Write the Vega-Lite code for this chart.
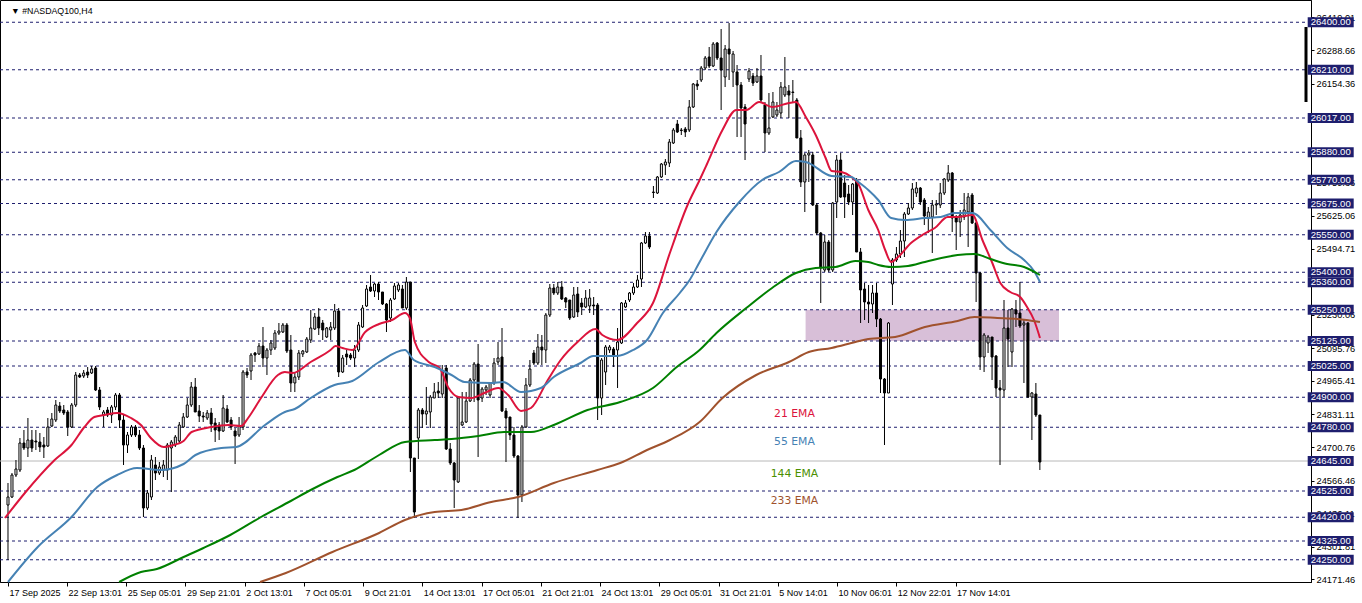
{
"$schema": "https://vega.github.io/schema/vega-lite/v6.json",
"width": 1311, "height": 582, "padding": {"left": 0, "top": 0, "right": 51, "bottom": 21}, "autosize": {"type": "none"},
"background": "#ffffff",
"config": {"view": {"stroke": "#000000", "strokeWidth": 1}},
"datasets": {
"candles": [
{"i":0,"o":24469,"h":24557,"l":24249,"c":24501},{"i":1,"o":24501,"h":24597,"l":24497,"c":24589},{"i":2,"o":24589,"h":24649,"l":24581,"c":24613},{"i":3,"o":24609,"h":24737,"l":24601,"c":24717},{"i":4,"o":24717,"h":24769,"l":24689,"c":24697},{"i":5,"o":24697,"h":24817,"l":24661,"c":24729},{"i":6,"o":24729,"h":24769,"l":24681,"c":24697},{"i":7,"o":24725,"h":24769,"l":24689,"c":24721},{"i":8,"o":24721,"h":24757,"l":24681,"c":24701},{"i":9,"o":24709,"h":24741,"l":24657,"c":24701},
{"i":10,"o":24705,"h":24817,"l":24701,"c":24781},{"i":11,"o":24785,"h":24837,"l":24781,"c":24813},{"i":12,"o":24809,"h":24889,"l":24801,"c":24869},{"i":13,"o":24865,"h":24881,"l":24837,"c":24845},{"i":14,"o":24849,"h":24869,"l":24829,"c":24837},{"i":15,"o":24841,"h":24849,"l":24745,"c":24781},{"i":16,"o":24781,"h":24877,"l":24777,"c":24869},{"i":17,"o":24869,"h":25001,"l":24861,"c":24989},{"i":18,"o":24989,"h":24997,"l":24977,"c":24981},{"i":19,"o":24985,"h":25009,"l":24977,"c":24997},
{"i":20,"o":25001,"h":25021,"l":24977,"c":24989},{"i":21,"o":24997,"h":25025,"l":24993,"c":25013},{"i":22,"o":25017,"h":25025,"l":24925,"c":24929},{"i":23,"o":24929,"h":24941,"l":24849,"c":24861},{"i":24,"o":24829,"h":24849,"l":24781,"c":24841},{"i":25,"o":24849,"h":24861,"l":24821,"c":24829},{"i":26,"o":24829,"h":24869,"l":24797,"c":24861},{"i":27,"o":24861,"h":24917,"l":24849,"c":24909},{"i":28,"o":24909,"h":24917,"l":24777,"c":24809},{"i":29,"o":24809,"h":24829,"l":24629,"c":24709},
{"i":30,"o":24709,"h":24761,"l":24677,"c":24749},{"i":31,"o":24749,"h":24789,"l":24741,"c":24781},{"i":32,"o":24781,"h":24789,"l":24741,"c":24749},{"i":33,"o":24749,"h":24769,"l":24689,"c":24697},{"i":34,"o":24697,"h":24709,"l":24421,"c":24457},{"i":35,"o":24457,"h":24529,"l":24449,"c":24517},{"i":36,"o":24501,"h":24669,"l":24489,"c":24649},{"i":37,"o":24629,"h":24661,"l":24569,"c":24597},{"i":38,"o":24597,"h":24641,"l":24589,"c":24621},{"i":39,"o":24609,"h":24649,"l":24581,"c":24629},
{"i":40,"o":24609,"h":24717,"l":24569,"c":24709},{"i":41,"o":24697,"h":24729,"l":24521,"c":24721},{"i":42,"o":24709,"h":24749,"l":24701,"c":24741},{"i":43,"o":24725,"h":24801,"l":24717,"c":24789},{"i":44,"o":24781,"h":24837,"l":24777,"c":24821},{"i":45,"o":24821,"h":24897,"l":24817,"c":24869},{"i":46,"o":24869,"h":24961,"l":24861,"c":24941},{"i":47,"o":24941,"h":24977,"l":24841,"c":24841},{"i":48,"o":24845,"h":24869,"l":24801,"c":24825},{"i":49,"o":24825,"h":24841,"l":24801,"c":24821},
{"i":50,"o":24817,"h":24849,"l":24809,"c":24837},{"i":51,"o":24837,"h":24857,"l":24761,"c":24793},{"i":52,"o":24797,"h":24817,"l":24721,"c":24769},{"i":53,"o":24789,"h":24801,"l":24729,"c":24765},{"i":54,"o":24765,"h":24909,"l":24761,"c":24857},{"i":55,"o":24853,"h":24869,"l":24797,"c":24801},{"i":56,"o":24809,"h":24821,"l":24769,"c":24781},{"i":57,"o":24765,"h":24777,"l":24633,"c":24745},{"i":58,"o":24749,"h":24821,"l":24741,"c":24785},{"i":59,"o":24781,"h":25009,"l":24769,"c":25001},
{"i":60,"o":25001,"h":25017,"l":24977,"c":24989},{"i":61,"o":25005,"h":25077,"l":24969,"c":25069},{"i":62,"o":25077,"h":25081,"l":25041,"c":25069},{"i":63,"o":25073,"h":25117,"l":25069,"c":25105},{"i":64,"o":25105,"h":25181,"l":25021,"c":25057},{"i":65,"o":25057,"h":25097,"l":24989,"c":25089},{"i":66,"o":25089,"h":25129,"l":25069,"c":25117},{"i":67,"o":25097,"h":25169,"l":25089,"c":25157},{"i":68,"o":25157,"h":25197,"l":25149,"c":25165},{"i":69,"o":25161,"h":25197,"l":25157,"c":25189},
{"i":70,"o":25189,"h":25197,"l":25077,"c":25085},{"i":71,"o":25089,"h":25149,"l":24921,"c":24957},{"i":72,"o":24957,"h":25001,"l":24921,"c":24981},{"i":73,"o":24981,"h":25089,"l":24969,"c":25077},{"i":74,"o":25073,"h":25089,"l":25061,"c":25085},{"i":75,"o":25081,"h":25141,"l":25077,"c":25133},{"i":76,"o":25129,"h":25249,"l":25117,"c":25177},{"i":77,"o":25173,"h":25237,"l":25169,"c":25221},{"i":78,"o":25221,"h":25257,"l":25149,"c":25177},{"i":79,"o":25197,"h":25209,"l":25129,"c":25169},
{"i":80,"o":25141,"h":25181,"l":25137,"c":25177},{"i":81,"o":25169,"h":25201,"l":25129,"c":25181},{"i":82,"o":25177,"h":25273,"l":25169,"c":25245},{"i":83,"o":25245,"h":25257,"l":24981,"c":25001},{"i":84,"o":25001,"h":25069,"l":24997,"c":25057},{"i":85,"o":25073,"h":25089,"l":25029,"c":25061},{"i":86,"o":25069,"h":25077,"l":25049,"c":25057},{"i":87,"o":25057,"h":25109,"l":25021,"c":25089},{"i":88,"o":25089,"h":25201,"l":25081,"c":25189},{"i":89,"o":25181,"h":25269,"l":25177,"c":25257},
{"i":90,"o":25265,"h":25349,"l":25261,"c":25333},{"i":91,"o":25341,"h":25389,"l":25321,"c":25325},{"i":92,"o":25325,"h":25357,"l":25301,"c":25353},{"i":93,"o":25353,"h":25361,"l":25289,"c":25321},{"i":94,"o":25321,"h":25321,"l":25269,"c":25273},{"i":95,"o":25273,"h":25277,"l":25161,"c":25209},{"i":96,"o":25217,"h":25297,"l":25201,"c":25289},{"i":97,"o":25293,"h":25357,"l":25289,"c":25345},{"i":98,"o":25329,"h":25357,"l":25321,"c":25349},{"i":99,"o":25333,"h":25349,"l":25257,"c":25257},
{"i":100,"o":25257,"h":25381,"l":25249,"c":25361},{"i":101,"o":25361,"h":25361,"l":24601,"c":24657},{"i":102,"o":24657,"h":24657,"l":24417,"c":24441},{"i":103,"o":24737,"h":24857,"l":24653,"c":24849},{"i":104,"o":24849,"h":24857,"l":24777,"c":24833},{"i":105,"o":24833,"h":24941,"l":24789,"c":24845},{"i":106,"o":24841,"h":24909,"l":24777,"c":24901},{"i":107,"o":24897,"h":24957,"l":24897,"c":24921},{"i":108,"o":24925,"h":24961,"l":24897,"c":24917},{"i":109,"o":24913,"h":25029,"l":24897,"c":25005},
{"i":110,"o":25017,"h":25029,"l":24689,"c":24693},{"i":111,"o":24693,"h":24717,"l":24629,"c":24637},{"i":112,"o":24637,"h":24641,"l":24457,"c":24569},{"i":113,"o":24561,"h":24901,"l":24557,"c":24897},{"i":114,"o":24789,"h":24921,"l":24785,"c":24801},{"i":115,"o":24801,"h":24921,"l":24797,"c":24885},{"i":116,"o":24885,"h":24977,"l":24881,"c":24969},{"i":117,"o":24969,"h":25041,"l":24881,"c":25033},{"i":118,"o":25033,"h":25113,"l":24661,"c":24889},{"i":119,"o":24897,"h":24941,"l":24881,"c":24933},
{"i":120,"o":24929,"h":24949,"l":24909,"c":24941},{"i":121,"o":24909,"h":24961,"l":24897,"c":24957},{"i":122,"o":24957,"h":25057,"l":24949,"c":25037},{"i":123,"o":25041,"h":25121,"l":25029,"c":25057},{"i":124,"o":25061,"h":25177,"l":24841,"c":24845},{"i":125,"o":24845,"h":24857,"l":24641,"c":24817},{"i":126,"o":24821,"h":24821,"l":24729,"c":24749},{"i":127,"o":24749,"h":24781,"l":24657,"c":24665},{"i":128,"o":24665,"h":24669,"l":24417,"c":24509},{"i":129,"o":24509,"h":24789,"l":24481,"c":24781},
{"i":130,"o":24781,"h":24977,"l":24777,"c":24949},{"i":131,"o":24949,"h":25049,"l":24941,"c":25013},{"i":132,"o":25077,"h":25089,"l":25029,"c":25037},{"i":133,"o":25037,"h":25153,"l":25029,"c":25101},{"i":134,"o":25101,"h":25149,"l":25029,"c":25089},{"i":135,"o":25089,"h":25237,"l":25037,"c":25229},{"i":136,"o":25229,"h":25353,"l":25221,"c":25337},{"i":137,"o":25337,"h":25353,"l":25309,"c":25317},{"i":138,"o":25317,"h":25361,"l":25309,"c":25341},{"i":139,"o":25341,"h":25365,"l":25289,"c":25293},
{"i":140,"o":25297,"h":25301,"l":25257,"c":25281},{"i":141,"o":25289,"h":25289,"l":25209,"c":25217},{"i":142,"o":25221,"h":25341,"l":25217,"c":25309},{"i":143,"o":25313,"h":25341,"l":25221,"c":25241},{"i":144,"o":25277,"h":25297,"l":25229,"c":25261},{"i":145,"o":25261,"h":25329,"l":25257,"c":25297},{"i":146,"o":25265,"h":25333,"l":25237,"c":25297},{"i":147,"o":25269,"h":25301,"l":25229,"c":25265},{"i":148,"o":25269,"h":25277,"l":24809,"c":24897},{"i":149,"o":24897,"h":25057,"l":24829,"c":25049},
{"i":150,"o":25001,"h":25109,"l":24949,"c":25101},{"i":151,"o":25089,"h":25109,"l":25077,"c":25101},{"i":152,"o":25093,"h":25101,"l":25021,"c":25069},{"i":153,"o":25089,"h":25177,"l":24937,"c":25121},{"i":154,"o":25117,"h":25281,"l":25113,"c":25277},{"i":155,"o":25261,"h":25289,"l":25257,"c":25277},{"i":156,"o":25289,"h":25321,"l":25281,"c":25317},{"i":157,"o":25317,"h":25357,"l":25309,"c":25341},{"i":158,"o":25341,"h":25389,"l":25337,"c":25369},{"i":159,"o":25373,"h":25521,"l":25341,"c":25517},
{"i":160,"o":25517,"h":25561,"l":25513,"c":25545},{"i":161,"o":25545,"h":25561,"l":25493,"c":25501},{"i":162,"o":25721,"h":25745,"l":25697,"c":25719},{"i":163,"o":25717,"h":25785,"l":25713,"c":25781},{"i":164,"o":25781,"h":25837,"l":25777,"c":25833},{"i":165,"o":25829,"h":25853,"l":25789,"c":25841},{"i":166,"o":25837,"h":25933,"l":25821,"c":25921},{"i":167,"o":25917,"h":25977,"l":25913,"c":25969},{"i":168,"o":25993,"h":26009,"l":25957,"c":25961},{"i":169,"o":25969,"h":25977,"l":25949,"c":25967},
{"i":170,"o":25973,"h":25981,"l":25941,"c":25961},{"i":171,"o":25969,"h":26089,"l":25961,"c":26061},{"i":172,"o":26061,"h":26157,"l":26057,"c":26153},{"i":173,"o":26153,"h":26169,"l":26129,"c":26145},{"i":174,"o":26169,"h":26225,"l":26161,"c":26217},{"i":175,"o":26217,"h":26265,"l":26209,"c":26257},{"i":176,"o":26261,"h":26301,"l":26217,"c":26225},{"i":177,"o":26225,"h":26321,"l":26221,"c":26313},{"i":178,"o":26317,"h":26321,"l":26249,"c":26257},{"i":179,"o":26257,"h":26373,"l":26049,"c":26209},
{"i":180,"o":26181,"h":26309,"l":26141,"c":26293},{"i":181,"o":26293,"h":26397,"l":26169,"c":26273},{"i":182,"o":26201,"h":26285,"l":26141,"c":26273},{"i":183,"o":26201,"h":26229,"l":25941,"c":26149},{"i":184,"o":26149,"h":26161,"l":25941,"c":26057},{"i":185,"o":26061,"h":26073,"l":25849,"c":25993},{"i":186,"o":26173,"h":26217,"l":26161,"c":26205},{"i":187,"o":26185,"h":26197,"l":26145,"c":26157},{"i":188,"o":26161,"h":26217,"l":26157,"c":26185},{"i":189,"o":26185,"h":26269,"l":26077,"c":26089},
{"i":190,"o":26069,"h":26081,"l":25881,"c":25957},{"i":191,"o":25957,"h":26117,"l":25949,"c":25977},{"i":192,"o":26021,"h":26121,"l":26017,"c":26081},{"i":193,"o":26029,"h":26081,"l":26021,"c":26049},{"i":194,"o":26037,"h":26161,"l":26017,"c":26141},{"i":195,"o":26109,"h":26261,"l":26101,"c":26141},{"i":196,"o":26125,"h":26149,"l":26017,"c":26109},{"i":197,"o":26121,"h":26169,"l":26077,"c":26119},{"i":198,"o":26089,"h":26097,"l":25937,"c":25937},{"i":199,"o":25937,"h":25969,"l":25741,"c":25761},
{"i":200,"o":25761,"h":25877,"l":25641,"c":25869},{"i":201,"o":25869,"h":25889,"l":25761,"c":25877},{"i":202,"o":25869,"h":25881,"l":25665,"c":25669},{"i":203,"o":25669,"h":25677,"l":25549,"c":25557},{"i":204,"o":25557,"h":25561,"l":25277,"c":25417},{"i":205,"o":25409,"h":25549,"l":25401,"c":25521},{"i":206,"o":25521,"h":25529,"l":25401,"c":25409},{"i":207,"o":25409,"h":25681,"l":25401,"c":25677},{"i":208,"o":25681,"h":25869,"l":25617,"c":25849},{"i":209,"o":25849,"h":25877,"l":25697,"c":25701},
{"i":210,"o":25757,"h":25789,"l":25617,"c":25701},{"i":211,"o":25713,"h":25749,"l":25669,"c":25681},{"i":212,"o":25681,"h":25757,"l":25629,"c":25753},{"i":213,"o":25769,"h":25777,"l":25481,"c":25481},{"i":214,"o":25481,"h":25497,"l":25197,"c":25329},{"i":215,"o":25333,"h":25357,"l":25209,"c":25281},{"i":216,"o":25281,"h":25349,"l":25197,"c":25273},{"i":217,"o":25273,"h":25349,"l":25237,"c":25317},{"i":218,"o":25317,"h":25357,"l":25181,"c":25213},{"i":219,"o":25213,"h":25217,"l":24917,"c":24973},
{"i":220,"o":24973,"h":24977,"l":24709,"c":24917},{"i":221,"o":24917,"h":25201,"l":24917,"c":25197},{"i":222,"o":25353,"h":25457,"l":25269,"c":25449},{"i":223,"o":25449,"h":25501,"l":25441,"c":25473},{"i":224,"o":25473,"h":25569,"l":25457,"c":25525},{"i":225,"o":25525,"h":25641,"l":25461,"c":25633},{"i":226,"o":25633,"h":25677,"l":25629,"c":25657},{"i":227,"o":25657,"h":25757,"l":25649,"c":25733},{"i":228,"o":25717,"h":25761,"l":25701,"c":25737},{"i":229,"o":25737,"h":25741,"l":25669,"c":25681},
{"i":230,"o":25689,"h":25697,"l":25589,"c":25625},{"i":231,"o":25617,"h":25661,"l":25557,"c":25641},{"i":232,"o":25621,"h":25689,"l":25477,"c":25669},{"i":233,"o":25669,"h":25689,"l":25629,"c":25673},{"i":234,"o":25669,"h":25757,"l":25657,"c":25717},{"i":235,"o":25717,"h":25777,"l":25709,"c":25773},{"i":236,"o":25769,"h":25829,"l":25761,"c":25797},{"i":237,"o":25797,"h":25801,"l":25561,"c":25617},{"i":238,"o":25617,"h":25629,"l":25489,"c":25601},{"i":239,"o":25601,"h":25649,"l":25541,"c":25629},
{"i":240,"o":25621,"h":25717,"l":25609,"c":25649},{"i":241,"o":25641,"h":25717,"l":25501,"c":25701},{"i":242,"o":25709,"h":25717,"l":25593,"c":25597},{"i":243,"o":25597,"h":25601,"l":25281,"c":25397},{"i":244,"o":25397,"h":25401,"l":25009,"c":25061},{"i":245,"o":25061,"h":25157,"l":25001,"c":25149},{"i":246,"o":25117,"h":25149,"l":25077,"c":25141},{"i":247,"o":25141,"h":25141,"l":24969,"c":25061},{"i":248,"o":25065,"h":25069,"l":24901,"c":24937},{"i":249,"o":24937,"h":24969,"l":24629,"c":24929},
{"i":250,"o":24929,"h":25289,"l":24901,"c":25177},{"i":251,"o":25177,"h":25249,"l":25021,"c":25133},{"i":252,"o":25081,"h":25257,"l":25021,"c":25253},{"i":253,"o":25249,"h":25289,"l":25181,"c":25233},{"i":254,"o":25237,"h":25361,"l":25177,"c":25185},{"i":255,"o":25189,"h":25209,"l":24957,"c":25197},{"i":256,"o":25197,"h":25201,"l":24897,"c":24901},{"i":257,"o":24901,"h":24921,"l":24729,"c":24917},{"i":258,"o":24913,"h":24957,"l":24821,"c":24829},{"i":259,"o":24829,"h":24829,"l":24609,"c":24641}
],
"ema": [
{"e":"21 EMA","i":-0.75,"v":24417},{"e":"21 EMA","i":4.23,"v":24517},{"e":"21 EMA","i":11.71,"v":24649},{"e":"21 EMA","i":15.94,"v":24709},{"e":"21 EMA","i":19.18,"v":24781},{"e":"21 EMA","i":21.67,"v":24821},{"e":"21 EMA","i":24.16,"v":24829},{"e":"21 EMA","i":27.4,"v":24837},{"e":"21 EMA","i":30.88,"v":24817},{"e":"21 EMA","i":33.37,"v":24789},{"e":"21 EMA","i":35.87,"v":24737},{"e":"21 EMA","i":39.1,"v":24701},{"e":"21 EMA","i":41.59,"v":24709},{"e":"21 EMA","i":44.08,"v":24725},{"e":"21 EMA","i":46.08,"v":24761},{"e":"21 EMA","i":51.06,"v":24781},{"e":"21 EMA","i":55.29,"v":24789},{"e":"21 EMA","i":58.53,"v":24785},{"e":"21 EMA","i":60.27,"v":24817},{"e":"21 EMA","i":63.51,"v":24897},{"e":"21 EMA","i":67.75,"v":24989},{"e":"21 EMA","i":69.49,"v":25001},{"e":"21 EMA","i":71.48,"v":24997},{"e":"21 EMA","i":75.97,"v":25041},{"e":"21 EMA","i":80.95,"v":25089},{"e":"21 EMA","i":82.19,"v":25105},{"e":"21 EMA","i":83.94,"v":25097},{"e":"21 EMA","i":86.43,"v":25089},{"e":"21 EMA","i":89.66,"v":25161},{"e":"21 EMA","i":93.15,"v":25193},{"e":"21 EMA","i":96.39,"v":25209},{"e":"21 EMA","i":99.63,"v":25237},{"e":"21 EMA","i":100.87,"v":25217},{"e":"21 EMA","i":102.12,"v":25121},{"e":"21 EMA","i":105.6,"v":25041},{"e":"21 EMA","i":108.34,"v":25017},{"e":"21 EMA","i":110.59,"v":24937},{"e":"21 EMA","i":113.08,"v":24901},{"e":"21 EMA","i":116.31,"v":24897},{"e":"21 EMA","i":119.55,"v":24917},{"e":"21 EMA","i":123.04,"v":24937},{"e":"21 EMA","i":125.53,"v":24909},{"e":"21 EMA","i":128.77,"v":24845},{"e":"21 EMA","i":131.26,"v":24857},{"e":"21 EMA","i":135.49,"v":24969},{"e":"21 EMA","i":138.73,"v":25049},{"e":"21 EMA","i":142.96,"v":25121},{"e":"21 EMA","i":147.45,"v":25173},{"e":"21 EMA","i":149.19,"v":25149},{"e":"21 EMA","i":152.93,"v":25129},{"e":"21 EMA","i":157.91,"v":25197},{"e":"21 EMA","i":161.89,"v":25277},{"e":"21 EMA","i":166.13,"v":25477},{"e":"21 EMA","i":170.36,"v":25661},{"e":"21 EMA","i":173.6,"v":25769},{"e":"21 EMA","i":175.34,"v":25829},{"e":"21 EMA","i":179.33,"v":25969},{"e":"21 EMA","i":182.81,"v":26049},{"e":"21 EMA","i":185.31,"v":26049},{"e":"21 EMA","i":188.54,"v":26081},{"e":"21 EMA","i":191.78,"v":26061},{"e":"21 EMA","i":196.01,"v":26077},{"e":"21 EMA","i":197.76,"v":26081},{"e":"21 EMA","i":200.25,"v":26021},{"e":"21 EMA","i":202.74,"v":25949},{"e":"21 EMA","i":205.23,"v":25857},{"e":"21 EMA","i":206.72,"v":25805},{"e":"21 EMA","i":209.22,"v":25801},{"e":"21 EMA","i":211.71,"v":25781},{"e":"21 EMA","i":213.45,"v":25753},{"e":"21 EMA","i":215.94,"v":25649},{"e":"21 EMA","i":218.43,"v":25569},{"e":"21 EMA","i":220.17,"v":25489},{"e":"21 EMA","i":221.67,"v":25441},{"e":"21 EMA","i":223.41,"v":25461},{"e":"21 EMA","i":226.65,"v":25517},{"e":"21 EMA","i":229.89,"v":25553},{"e":"21 EMA","i":232.63,"v":25577},{"e":"21 EMA","i":235.87,"v":25621},{"e":"21 EMA","i":238.36,"v":25621},{"e":"21 EMA","i":242.09,"v":25629},{"e":"21 EMA","i":244.58,"v":25529},{"e":"21 EMA","i":247.07,"v":25437},{"e":"21 EMA","i":249.07,"v":25357},{"e":"21 EMA","i":251.56,"v":25321},{"e":"21 EMA","i":254.05,"v":25301},{"e":"21 EMA","i":255.79,"v":25261},{"e":"21 EMA","i":257.53,"v":25209},{"e":"21 EMA","i":259.03,"v":25137},
{"e":"55 EMA","i":0,"v":24161},{"e":"55 EMA","i":7.47,"v":24301},{"e":"55 EMA","i":15.94,"v":24421},{"e":"55 EMA","i":22.42,"v":24541},{"e":"55 EMA","i":27.4,"v":24589},{"e":"55 EMA","i":32.38,"v":24617},{"e":"55 EMA","i":38.36,"v":24609},{"e":"55 EMA","i":44.08,"v":24633},{"e":"55 EMA","i":47.07,"v":24669},{"e":"55 EMA","i":53.55,"v":24697},{"e":"55 EMA","i":57.29,"v":24701},{"e":"55 EMA","i":64.51,"v":24789},{"e":"55 EMA","i":69.49,"v":24841},{"e":"55 EMA","i":71.98,"v":24853},{"e":"55 EMA","i":75.97,"v":24897},{"e":"55 EMA","i":81.94,"v":24949},{"e":"55 EMA","i":86.43,"v":24965},{"e":"55 EMA","i":93.15,"v":25041},{"e":"55 EMA","i":99.63,"v":25089},{"e":"55 EMA","i":101.87,"v":25049},{"e":"55 EMA","i":107.1,"v":25021},{"e":"55 EMA","i":111.33,"v":24989},{"e":"55 EMA","i":114.57,"v":24961},{"e":"55 EMA","i":121.3,"v":24957},{"e":"55 EMA","i":124.28,"v":24961},{"e":"55 EMA","i":128.77,"v":24921},{"e":"55 EMA","i":133.75,"v":24937},{"e":"55 EMA","i":136.99,"v":24981},{"e":"55 EMA","i":143.71,"v":25037},{"e":"55 EMA","i":146.95,"v":25065},{"e":"55 EMA","i":152.93,"v":25065},{"e":"55 EMA","i":156.91,"v":25089},{"e":"55 EMA","i":160.4,"v":25129},{"e":"55 EMA","i":164.38,"v":25237},{"e":"55 EMA","i":168.62,"v":25317},{"e":"55 EMA","i":171.1,"v":25369},{"e":"55 EMA","i":173.6,"v":25441},{"e":"55 EMA","i":177.83,"v":25561},{"e":"55 EMA","i":183.56,"v":25681},{"e":"55 EMA","i":189.29,"v":25769},{"e":"55 EMA","i":193.52,"v":25801},{"e":"55 EMA","i":197.76,"v":25845},{"e":"55 EMA","i":200.25,"v":25841},{"e":"55 EMA","i":206.72,"v":25785},{"e":"55 EMA","i":211.71,"v":25781},{"e":"55 EMA","i":213.45,"v":25761},{"e":"55 EMA","i":215.94,"v":25729},{"e":"55 EMA","i":218.43,"v":25689},{"e":"55 EMA","i":221.67,"v":25617},{"e":"55 EMA","i":225.15,"v":25609},{"e":"55 EMA","i":230.14,"v":25617},{"e":"55 EMA","i":234.12,"v":25621},{"e":"55 EMA","i":237.61,"v":25637},{"e":"55 EMA","i":242.09,"v":25637},{"e":"55 EMA","i":246.58,"v":25569},{"e":"55 EMA","i":250.81,"v":25497},{"e":"55 EMA","i":255.04,"v":25449},{"e":"55 EMA","i":257.53,"v":25405},{"e":"55 EMA","i":259.03,"v":25361},
{"e":"144 EMA","i":27.9,"v":24161},{"e":"144 EMA","i":33.37,"v":24201},{"e":"144 EMA","i":37.36,"v":24213},{"e":"144 EMA","i":44.08,"v":24261},{"e":"144 EMA","i":49.07,"v":24297},{"e":"144 EMA","i":55.79,"v":24349},{"e":"144 EMA","i":63.51,"v":24421},{"e":"144 EMA","i":70.98,"v":24485},{"e":"144 EMA","i":75.97,"v":24529},{"e":"144 EMA","i":82.69,"v":24581},{"e":"144 EMA","i":86.92,"v":24609},{"e":"144 EMA","i":93.15,"v":24669},{"e":"144 EMA","i":99.63,"v":24721},{"e":"144 EMA","i":107.1,"v":24729},{"e":"144 EMA","i":111.33,"v":24733},{"e":"144 EMA","i":118.06,"v":24745},{"e":"144 EMA","i":124.53,"v":24761},{"e":"144 EMA","i":131.26,"v":24761},{"e":"144 EMA","i":136.99,"v":24789},{"e":"144 EMA","i":145.45,"v":24849},{"e":"144 EMA","i":153.67,"v":24881},{"e":"144 EMA","i":161.89,"v":24937},{"e":"144 EMA","i":167.87,"v":25021},{"e":"144 EMA","i":173.6,"v":25089},{"e":"144 EMA","i":177.83,"v":25157},{"e":"144 EMA","i":185.31,"v":25257},{"e":"144 EMA","i":191.78,"v":25337},{"e":"144 EMA","i":197.76,"v":25397},{"e":"144 EMA","i":202.74,"v":25417},{"e":"144 EMA","i":207.72,"v":25421},{"e":"144 EMA","i":212.7,"v":25445},{"e":"144 EMA","i":215.94,"v":25441},{"e":"144 EMA","i":218.43,"v":25429},{"e":"144 EMA","i":221.67,"v":25421},{"e":"144 EMA","i":225.9,"v":25425},{"e":"144 EMA","i":230.14,"v":25441},{"e":"144 EMA","i":238.36,"v":25469},{"e":"144 EMA","i":242.59,"v":25473},{"e":"144 EMA","i":246.58,"v":25453},{"e":"144 EMA","i":250.81,"v":25433},{"e":"144 EMA","i":255.04,"v":25421},{"e":"144 EMA","i":259.03,"v":25389},
{"e":"233 EMA","i":63.26,"v":24161},{"e":"233 EMA","i":69.74,"v":24197},{"e":"233 EMA","i":81.44,"v":24281},{"e":"233 EMA","i":93.15,"v":24357},{"e":"233 EMA","i":99.63,"v":24409},{"e":"233 EMA","i":107.1,"v":24441},{"e":"233 EMA","i":113.82,"v":24449},{"e":"233 EMA","i":121.3,"v":24481},{"e":"233 EMA","i":128.02,"v":24501},{"e":"233 EMA","i":136.99,"v":24557},{"e":"233 EMA","i":147.95,"v":24609},{"e":"233 EMA","i":153.67,"v":24637},{"e":"233 EMA","i":160.4,"v":24689},{"e":"233 EMA","i":166.13,"v":24729},{"e":"233 EMA","i":173.6,"v":24801},{"e":"233 EMA","i":179.33,"v":24897},{"e":"233 EMA","i":187.8,"v":24989},{"e":"233 EMA","i":196.01,"v":25041},{"e":"233 EMA","i":201,"v":25081},{"e":"233 EMA","i":206.72,"v":25097},{"e":"233 EMA","i":212.7,"v":25121},{"e":"233 EMA","i":215.94,"v":25133},{"e":"233 EMA","i":222.67,"v":25141},{"e":"233 EMA","i":230.14,"v":25181},{"e":"233 EMA","i":238.36,"v":25205},{"e":"233 EMA","i":242.59,"v":25221},{"e":"233 EMA","i":248.32,"v":25217},{"e":"233 EMA","i":253.3,"v":25213},{"e":"233 EMA","i":259.03,"v":25201}
],
"levels": [{"level":26400},{"level":26210},{"level":26017},{"level":25880},{"level":25770},{"level":25675},{"level":25550},{"level":25400},{"level":25360},{"level":25250},{"level":25125},{"level":25025},{"level":24900},{"level":24780},{"level":24645},{"level":24525},{"level":24420},{"level":24325},{"level":24250}]
},
"layer": [
{"data": {"values": [{}]}, "mark": {"type": "rect", "color": "#d8bfd8"},
 "encoding": {
  "x": {"datum": 200.2, "type": "quantitative", "title": null, "scale": {"domain": [-0.75, 325.8], "nice": false, "zero": false}},
  "x2": {"datum": 263.8},
  "y": {"datum": 25125, "type": "quantitative", "title": null, "scale": {"domain": [24161, 26489], "nice": false, "zero": false}},
  "y2": {"datum": 25250}}},
{"data": {"name": "levels"}, "transform": [{"filter": "datum.level != 24645"}],
 "mark": {"type": "rule", "color": "#1e1e6e", "strokeWidth": 1, "strokeDash": [3, 3]},
 "encoding": {"y": {"field": "level", "type": "quantitative", "title": null, "scale": {"domain": [24161, 26489], "nice": false, "zero": false}}}},
{"data": {"values": [{}]}, "mark": {"type": "rule", "color": "#b8b8b8", "strokeWidth": 1},
 "encoding": {"y": {"datum": 24645, "type": "quantitative", "title": null, "scale": {"domain": [24161, 26489], "nice": false, "zero": false}}}},
{"data": {"name": "candles"}, "mark": {"type": "rule", "color": "#000000", "strokeWidth": 1},
 "encoding": {
  "x": {"field": "i", "type": "quantitative", "title": null, "scale": {"domain": [-0.75, 325.8], "nice": false, "zero": false}},
  "y": {"field": "l", "type": "quantitative", "title": null, "scale": {"domain": [24161, 26489], "nice": false, "zero": false}},
  "y2": {"field": "h"}}},
{"data": {"name": "candles"}, "mark": {"type": "bar", "size": 2, "stroke": "#000000", "strokeWidth": 1},
 "encoding": {
  "x": {"field": "i", "type": "quantitative", "title": null, "scale": {"domain": [-0.75, 325.8], "nice": false, "zero": false},
   "axis": {"orient": "bottom", "values": [0, 14.79, 29.66, 44.53, 59.4, 74.27, 89.14, 104.01, 118.88, 133.75, 148.62, 163.48, 178.35, 193.22, 208.09, 222.96, 237.83],
    "labelExpr": "['17 Sep 2025','22 Sep 13:01','25 Sep 05:01','29 Sep 21:01','2 Oct 13:01','7 Oct 05:01','9 Oct 21:01','14 Oct 13:01','17 Oct 05:01','21 Oct 21:01','24 Oct 13:01','29 Oct 05:01','31 Oct 21:01','5 Nov 14:01','10 Nov 06:01','12 Nov 22:01','17 Nov 14:01'][round(datum.value/14.869)]",
    "labelAlign": "left", "labelBaseline": "top", "labelPadding": 2, "labelOffset": 1, "tickSize": 4, "tickColor": "#000000", "domainColor": "#000000", "labelColor": "#000000",
    "labelFont": "Liberation Sans", "labelFontSize": 9, "grid": false, "labelOverlap": false, "labelFlush": false, "labelBound": false}},
  "y": {"field": "o", "type": "quantitative", "title": null, "scale": {"domain": [24161, 26489], "nice": false, "zero": false},
   "axis": {"orient": "right", "values": [26419.01, 26288.66, 26154.36, 25759.36, 25625.06, 25494.71, 25230.06, 25095.76, 24965.41, 24831.11, 24700.76, 24566.46, 24436.11, 24301.81, 24171.46],
    "format": ".2f", "labelFont": "Liberation Sans", "labelFontSize": 9.3, "labelColor": "#000000", "tickSize": 3, "tickColor": "#000000", "domainColor": "#000000", "labelPadding": 2, "grid": false, "labelOverlap": false, "labelFlush": false, "labelBound": false}},
  "y2": {"field": "c"},
  "fill": {"condition": {"test": "datum.c >= datum.o", "value": "#ffffff"}, "value": "#000000"}}},
{"data": {"name": "ema"}, "mark": {"type": "line", "strokeWidth": 2, "interpolate": "monotone"},
 "encoding": {
  "x": {"field": "i", "type": "quantitative", "title": null, "scale": {"domain": [-0.75, 325.8], "nice": false, "zero": false}},
  "y": {"field": "v", "type": "quantitative", "title": null, "scale": {"domain": [24161, 26489], "nice": false, "zero": false}},
  "color": {"field": "e", "type": "nominal", "legend": null, "scale": {"domain": ["21 EMA", "55 EMA", "144 EMA", "233 EMA"], "range": ["#dc143c", "#4682b4", "#008000", "#a0522d"]}}}},
{"data": {"values": [{"t": "21 EMA"}]}, "mark": {"type": "text", "font": "DejaVu Sans", "fontSize": 10.8, "color": "#dc143c", "align": "center", "baseline": "middle"},
 "encoding": {"text": {"field": "t"},
  "x": {"datum": 197.4, "type": "quantitative", "title": null, "scale": {"domain": [-0.75, 325.8], "nice": false, "zero": false}},
  "y": {"datum": 24833, "type": "quantitative", "title": null, "scale": {"domain": [24161, 26489], "nice": false, "zero": false}}}},
{"data": {"values": [{"t": "55 EMA"}]}, "mark": {"type": "text", "font": "DejaVu Sans", "fontSize": 10.8, "color": "#4682b4", "align": "center", "baseline": "middle"},
 "encoding": {"text": {"field": "t"},
  "x": {"datum": 197.4, "type": "quantitative", "title": null, "scale": {"domain": [-0.75, 325.8], "nice": false, "zero": false}},
  "y": {"datum": 24722, "type": "quantitative", "title": null, "scale": {"domain": [24161, 26489], "nice": false, "zero": false}}}},
{"data": {"values": [{"t": "144 EMA"}]}, "mark": {"type": "text", "font": "DejaVu Sans", "fontSize": 10.8, "color": "#4b8f00", "align": "center", "baseline": "middle"},
 "encoding": {"text": {"field": "t"},
  "x": {"datum": 197.4, "type": "quantitative", "title": null, "scale": {"domain": [-0.75, 325.8], "nice": false, "zero": false}},
  "y": {"datum": 24593, "type": "quantitative", "title": null, "scale": {"domain": [24161, 26489], "nice": false, "zero": false}}}},
{"data": {"values": [{"t": "233 EMA"}]}, "mark": {"type": "text", "font": "DejaVu Sans", "fontSize": 10.8, "color": "#a0522d", "align": "center", "baseline": "middle"},
 "encoding": {"text": {"field": "t"},
  "x": {"datum": 197.4, "type": "quantitative", "title": null, "scale": {"domain": [-0.75, 325.8], "nice": false, "zero": false}},
  "y": {"datum": 24485, "type": "quantitative", "title": null, "scale": {"domain": [24161, 26489], "nice": false, "zero": false}}}},
{"data": {"values": [{"t": "▼ #NASDAQ100,H4"}]}, "mark": {"type": "text", "font": "Liberation Sans", "fontSize": 8.8, "color": "#000000", "align": "left", "baseline": "middle", "dx": 6},
 "encoding": {"text": {"field": "t"},
  "x": {"datum": -0.75, "type": "quantitative", "title": null, "scale": {"domain": [-0.75, 325.8], "nice": false, "zero": false}},
  "y": {"datum": 26446, "type": "quantitative", "title": null, "scale": {"domain": [24161, 26489], "nice": false, "zero": false}}}},
{"data": {"values": [{}]}, "mark": {"type": "rule", "color": "#000000", "strokeWidth": 3},
 "encoding": {
  "x": {"datum": 325.8, "type": "quantitative", "title": null, "scale": {"domain": [-0.75, 325.8], "nice": false, "zero": false}},
  "y": {"datum": 26381, "type": "quantitative", "title": null, "scale": {"domain": [24161, 26489], "nice": false, "zero": false}},
  "y2": {"datum": 26081}}},
{"data": {"name": "levels"}, "mark": {"type": "tick", "orient": "horizontal", "thickness": 10, "size": 46, "color": "#1e1e6e", "opacity": 1},
 "encoding": {
  "x": {"datum": 332.0, "type": "quantitative", "title": null, "scale": {"domain": [-0.75, 325.8], "nice": false, "zero": false}},
  "y": {"field": "level", "type": "quantitative", "title": null, "scale": {"domain": [24161, 26489], "nice": false, "zero": false}}}},
{"data": {"name": "levels"}, "mark": {"type": "text", "font": "Liberation Sans", "fontSize": 9.6, "color": "#ffffff", "align": "center", "baseline": "middle"},
 "encoding": {"text": {"field": "level", "type": "quantitative", "format": ".2f"},
  "x": {"datum": 332.0, "type": "quantitative", "title": null, "scale": {"domain": [-0.75, 325.8], "nice": false, "zero": false}},
  "y": {"field": "level", "type": "quantitative", "title": null, "scale": {"domain": [24161, 26489], "nice": false, "zero": false}}}}
]
}
